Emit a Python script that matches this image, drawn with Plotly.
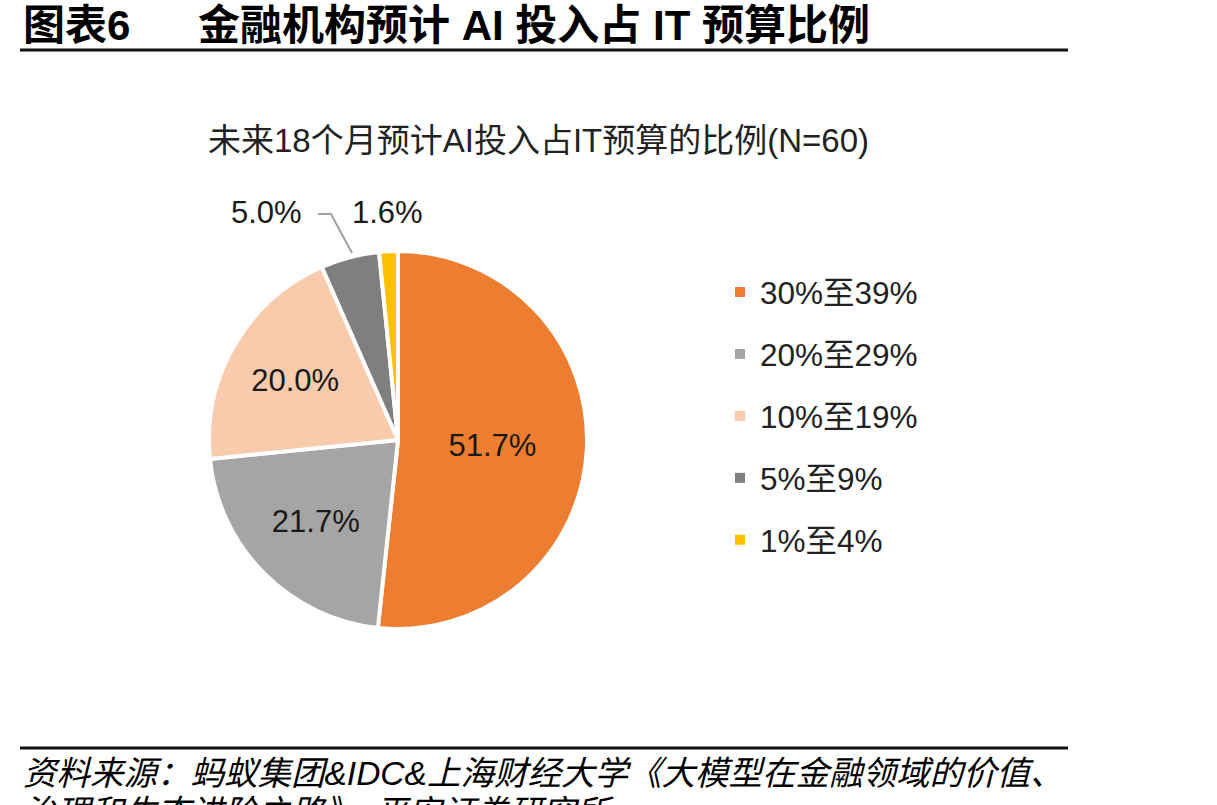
import plotly.graph_objects as go

categories = ["30%至39%", "20%至29%", "10%至19%", "5%至9%", "1%至4%"]
values = [51.7, 21.7, 20.0, 5.0, 1.6]
colors = ["#ED7D31", "#A5A5A5", "#F8CBAD", "#7F7F7F", "#FFC000"]

W, H = 1217, 805
LAT_CJK = "Liberation Sans, Noto Sans CJK SC"

def px(x):
    return x / W

def py(y):
    return 1 - y / H

fig = go.Figure()

cx, cy, r = 398, 440, 189
fig.add_trace(go.Pie(
    labels=categories,
    values=values,
    sort=False,
    direction="clockwise",
    rotation=0,
    marker=dict(colors=colors, line=dict(color="white", width=4)),
    texttemplate="%{value:.1f}%",
    textposition=["inside", "inside", "inside", "none", "none"],
    insidetextorientation="horizontal",
    textfont=dict(family=LAT_CJK, size=31, color="#1a1a1a"),
    domain=dict(x=[px(cx - r), px(cx + r)], y=[py(cy + r), py(cy - r)]),
    showlegend=False,
    hoverinfo="label+percent",
))

# legend entries
for i, (c, col) in enumerate(zip(categories, colors)):
    fig.add_trace(go.Scatter(
        x=[None], y=[None], mode="markers", name=c,
        marker=dict(symbol="square", size=10, color=col),
        legendgroup=f"g{i}", showlegend=True,
    ))

annotations = [
    dict(text="图表6", x=px(21), y=py(26), xanchor="left", yanchor="middle",
         font=dict(family=LAT_CJK, size=42, color="#000", weight="bold")),
    dict(text="金融机构预计 AI 投入占 IT 预算比例", x=px(196), y=py(26), xanchor="left", yanchor="middle",
         font=dict(family=LAT_CJK, size=42, color="#000", weight="bold")),
    dict(text="未来18个月预计AI投入占IT预算的比例(N=60)", x=px(206), y=py(140), xanchor="left", yanchor="middle",
         font=dict(family=LAT_CJK, size=33, color="#222")),
    dict(text=f"{values[3]:.1f}%", x=px(266), y=py(212), xanchor="center", yanchor="middle",
         font=dict(family=LAT_CJK, size=31, color="#1a1a1a")),
    dict(text=f"{values[4]:.1f}%", x=px(387), y=py(212), xanchor="center", yanchor="middle",
         font=dict(family=LAT_CJK, size=31, color="#1a1a1a")),
    dict(text="<i>资料来源：蚂蚁集团&IDC&上海财经大学《大模型在金融领域的价值、</i>", x=px(21), y=py(773),
         xanchor="left", yanchor="middle",
         font=dict(family=LAT_CJK, size=33.5, color="#000")),
    dict(text="<i>治理和生态进阶之路》，平安证券研究所</i>", x=px(21), y=py(812),
         xanchor="left", yanchor="middle",
         font=dict(family=LAT_CJK, size=33.5, color="#000")),
]
for a in annotations:
    a.update(xref="paper", yref="paper", showarrow=False)

shapes = [
    dict(type="line", xref="paper", yref="paper", x0=px(20), x1=px(1068), y0=py(50), y1=py(50),
         line=dict(color="#111", width=3)),
    dict(type="line", xref="paper", yref="paper", x0=px(20), x1=px(1068), y0=py(748), y1=py(748),
         line=dict(color="#111", width=3)),
    dict(type="path", xref="paper", yref="paper",
         path=f"M {px(318)} {py(214)} L {px(331)} {py(214)} L {px(352)} {py(253)}",
         line=dict(color="#A0A0A0", width=2)),
]

fig.update_layout(
    width=W, height=H,
    margin=dict(l=0, r=0, t=0, b=0),
    paper_bgcolor="white", plot_bgcolor="white",
    xaxis=dict(visible=False, domain=[0.99, 1.0]),
    yaxis=dict(visible=False, domain=[0.99, 1.0]),
    annotations=annotations,
    shapes=shapes,
    legend=dict(x=px(720), y=py(265), xanchor="left", yanchor="top",
                font=dict(family=LAT_CJK, size=31.5, color="#222"),
                tracegroupgap=18, itemwidth=30, bgcolor="rgba(0,0,0,0)"),
    font=dict(family=LAT_CJK),
)

fig.write_html("out.html")
